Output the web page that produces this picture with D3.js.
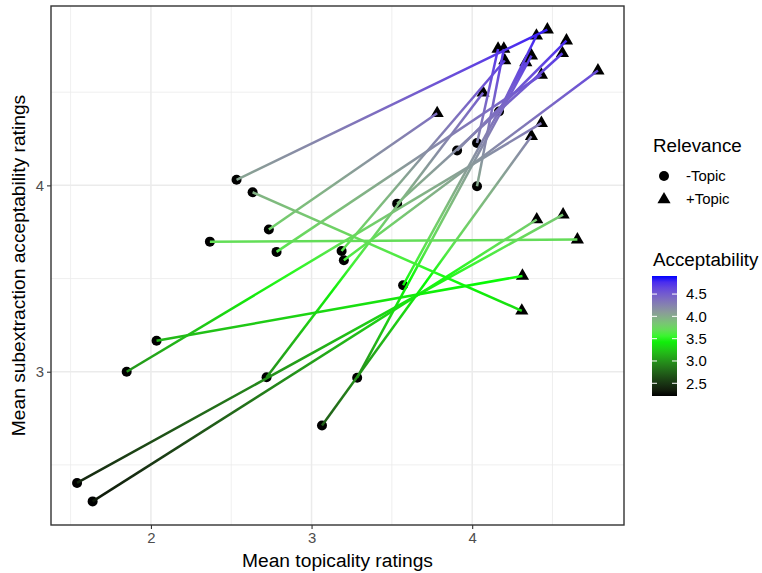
<!DOCTYPE html>
<html>
<head>
<meta charset="utf-8">
<script src="https://cdn.jsdelivr.net/npm/d3@7"></script>
<style>
    body { margin: 0; background: #fff; }
    text { font-family: "Liberation Sans", Arial, sans-serif; }
</style>
</head>
<body>
<div id="chart"></div>
<script>

// -Topic end (circle) of each item
let minusX = [1.540, 1.637, 1.849, 2.035, 2.720, 3.065, 3.284, 2.533, 2.633, 2.734,
              2.367, 2.782, 3.187, 3.201, 3.533, 3.570, 3.906, 4.030, 4.030, 4.167];
let minusY = [2.403, 2.304, 3.000, 3.166, 2.970, 2.711, 2.968, 4.030, 3.963, 3.763,
              3.698, 3.643, 3.648, 3.598, 3.902, 3.464, 4.187, 4.227, 3.995, 4.396];

// +Topic end (triangle) of each item
let plusX = [4.566, 4.402, 4.431, 4.313, 4.068, 4.369, 4.369, 4.468, 4.309, 3.782,
             4.655, 4.431, 4.203, 4.783, 4.562, 4.334, 4.587, 4.161, 4.197, 4.400];
let plusY = [3.843, 3.817, 4.334, 3.514, 4.497, 4.264, 4.696, 4.836, 3.327, 4.387,
             3.709, 4.593, 4.670, 4.616, 4.709, 4.660, 4.777, 4.732, 4.732, 4.803];

let xTicks = [2, 3, 4];
let yTicks = [3, 4];
let xMinor = [1.5, 2.5, 3.5, 4.5];
let yMinor = [2.5, 3.5, 4.5];

let relevanceLabels = ["-Topic", "+Topic"];
let accTicks = [2.5, 3.0, 3.5, 4.0, 4.5];
let accLimits = [2.215, 4.905];

// colour ramp for acceptability
let accStops = [2.215, 3.5, 4.1, 4.905];
let accColors = ["#000000", "#00ff00", "#8a9a9a", "#0000ff"];

let items = minusX.map((d, i) => ({
    x1: d, y1: minusY[i], x2: plusX[i], y2: plusY[i]
}));

let width = 762, height = 573;
let panel = {left: 51, right: 624, top: 6, bottom: 525};

let svg = d3.select("#chart").append("svg")
    .attr("width", width)
    .attr("height", height);

// ggplot-like 5% expansion
function expand(ext) {
    let r = ext[1] - ext[0];
    return [ext[0] - r * 0.05, ext[1] + r * 0.05];
}

let x = d3.scaleLinear()
    .domain(expand(d3.extent(minusX.concat(plusX))))
    .range([panel.left, panel.right]);

let y = d3.scaleLinear()
    .domain(expand(d3.extent(minusY.concat(plusY))))
    .range([panel.bottom, panel.top]);

let color = d3.scaleLinear()
    .domain(accStops)
    .range(accColors)
    .interpolate(d3.interpolateLab);

let defs = svg.append("defs");

// grid
let grid = svg.append("g");
grid.selectAll(".xminor").data(xMinor).enter().append("line")
    .attr("x1", d => x(d)).attr("x2", d => x(d))
    .attr("y1", panel.top).attr("y2", panel.bottom)
    .attr("stroke", "#ebebeb").attr("stroke-width", 0.8);
grid.selectAll(".yminor").data(yMinor).enter().append("line")
    .attr("y1", d => y(d)).attr("y2", d => y(d))
    .attr("x1", panel.left).attr("x2", panel.right)
    .attr("stroke", "#ebebeb").attr("stroke-width", 0.8);
grid.selectAll(".xmajor").data(xTicks).enter().append("line")
    .attr("x1", d => x(d)).attr("x2", d => x(d))
    .attr("y1", panel.top).attr("y2", panel.bottom)
    .attr("stroke", "#ebebeb").attr("stroke-width", 1.5);
grid.selectAll(".ymajor").data(yTicks).enter().append("line")
    .attr("y1", d => y(d)).attr("y2", d => y(d))
    .attr("x1", panel.left).attr("x2", panel.right)
    .attr("stroke", "#ebebeb").attr("stroke-width", 1.5);

// points
svg.append("g").selectAll("circle").data(items).enter().append("circle")
    .attr("cx", d => x(d.x1))
    .attr("cy", d => y(d.y1))
    .attr("r", 5)
    .attr("fill", "black");

let tri = d3.symbol().type(d3.symbolTriangle).size(75);
svg.append("g").selectAll("path").data(items).enter().append("path")
    .attr("d", tri)
    .attr("transform", d => `translate(${x(d.x2)},${y(d.y2)})`)
    .attr("fill", "black");

// segments, coloured along their length by acceptability
items.forEach((d, i) => {
    let g = defs.append("linearGradient")
        .attr("id", "seg" + i)
        .attr("gradientUnits", "userSpaceOnUse")
        .attr("x1", x(d.x1)).attr("y1", y(d.y1))
        .attr("x2", x(d.x2)).attr("y2", y(d.y2));
    d3.range(0, 1.0001, 0.1).forEach(t => {
        g.append("stop")
            .attr("offset", t)
            .attr("stop-color", color(d.y1 + t * (d.y2 - d.y1)));
    });
});

svg.append("g").selectAll("line").data(items).enter().append("line")
    .attr("x1", d => x(d.x1)).attr("y1", d => y(d.y1))
    .attr("x2", d => x(d.x2)).attr("y2", d => y(d.y2))
    .attr("stroke", (d, i) => `url(#seg${i})`)
    .attr("stroke-width", 2.5);

// panel border
svg.append("rect")
    .attr("x", panel.left).attr("y", panel.top)
    .attr("width", panel.right - panel.left)
    .attr("height", panel.bottom - panel.top)
    .attr("fill", "none")
    .attr("stroke", "#333333")
    .attr("stroke-width", 1.4);

// axes
let xAxis = d3.axisBottom(x).tickValues(xTicks).tickSize(4).tickPadding(3).tickFormat(d3.format("d"));
let yAxis = d3.axisLeft(y).tickValues(yTicks).tickSize(4).tickPadding(3).tickFormat(d3.format("d"));

let xAxisGroup = svg.append("g")
    .attr("transform", `translate(0,${panel.bottom})`)
    .call(xAxis);
let yAxisGroup = svg.append("g")
    .attr("transform", `translate(${panel.left},0)`)
    .call(yAxis);

[xAxisGroup, yAxisGroup].forEach(g => {
    g.select(".domain").remove();
    g.selectAll(".tick line").attr("stroke", "#333333").attr("stroke-width", 1.1);
    g.selectAll(".tick text")
        .attr("fill", "#4d4d4d")
        .style("font-size", "14.9px")
        .style("font-family", "Liberation Sans, Arial, sans-serif");
});

// axis titles
svg.append("text")
    .attr("x", (panel.left + panel.right) / 2)
    .attr("y", 567)
    .attr("text-anchor", "middle")
    .style("font-size", "19.2px")
    .text("Mean topicality ratings");

svg.append("text")
    .attr("transform", `translate(25,${(panel.top + panel.bottom) / 2}) rotate(-90)`)
    .attr("text-anchor", "middle")
    .style("font-size", "19.2px")
    .text("Mean subextraction acceptability ratings");

// legend: relevance
let legend = svg.append("g");
legend.append("text")
    .attr("x", 653).attr("y", 152)
    .style("font-size", "18.8px")
    .text("Relevance");

legend.append("circle")
    .attr("cx", 664).attr("cy", 176).attr("r", 5).attr("fill", "black");
legend.append("path")
    .attr("d", tri)
    .attr("transform", "translate(664,199.5)")
    .attr("fill", "black");

legend.selectAll(".rel").data(relevanceLabels).enter().append("text")
    .attr("x", 686)
    .attr("y", (d, i) => 181 + i * 23)
    .style("font-size", "14.9px")
    .text(d => d);

// legend: acceptability colour bar
legend.append("text")
    .attr("x", 653).attr("y", 266)
    .style("font-size", "18.8px")
    .text("Acceptability");

let bar = {x: 652, w: 25, top: 276, bottom: 396};
let accScale = d3.scaleLinear().domain(accLimits).range([bar.bottom, bar.top]);

let barGrad = defs.append("linearGradient")
    .attr("id", "accbar")
    .attr("gradientUnits", "userSpaceOnUse")
    .attr("x1", 0).attr("y1", bar.bottom)
    .attr("x2", 0).attr("y2", bar.top);
d3.range(0, 1.0001, 0.05).forEach(t => {
    barGrad.append("stop")
        .attr("offset", t)
        .attr("stop-color", color(accLimits[0] + t * (accLimits[1] - accLimits[0])));
});

legend.append("rect")
    .attr("x", bar.x).attr("y", bar.top)
    .attr("width", bar.w).attr("height", bar.bottom - bar.top)
    .attr("fill", "url(#accbar)");

accTicks.forEach(t => {
    [[bar.x, bar.x + 5], [bar.x + bar.w - 5, bar.x + bar.w]].forEach(s => {
        legend.append("line")
            .attr("x1", s[0]).attr("x2", s[1])
            .attr("y1", accScale(t)).attr("y2", accScale(t))
            .attr("stroke", "white").attr("stroke-width", 1);
    });
});

legend.selectAll(".acc").data(accTicks).enter().append("text")
    .attr("x", 686)
    .attr("y", d => accScale(d))
    .attr("dy", "0.36em")
    .style("font-size", "14.9px")
    .text(d => d3.format(".1f")(d));

</script>
</body>
</html>
